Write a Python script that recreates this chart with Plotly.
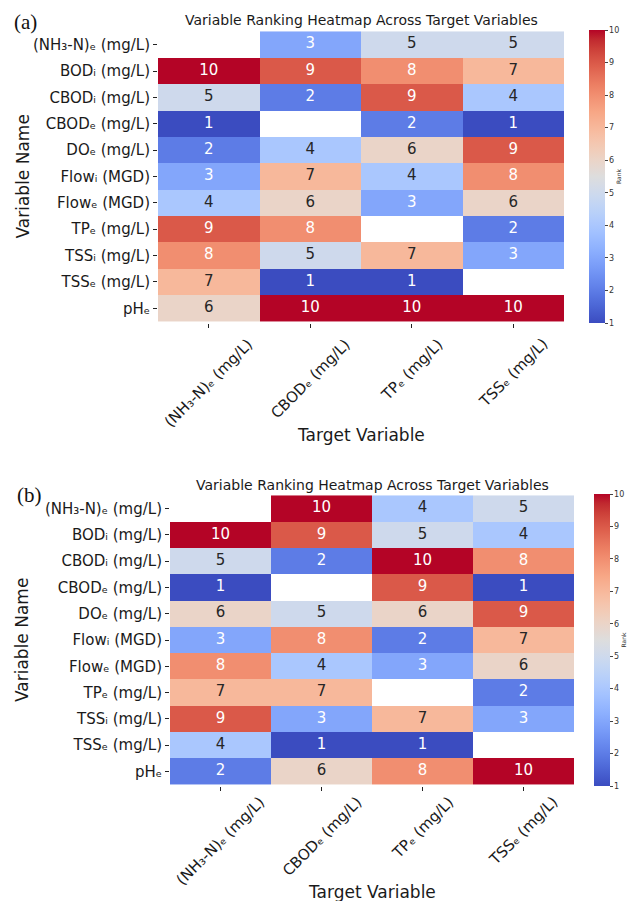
import numpy as np
import plotly.graph_objects as go

rows = ["(NH₃-N)ₑ (mg/L)", "BODᵢ (mg/L)", "CBODᵢ (mg/L)", "CBODₑ (mg/L)", "DOₑ (mg/L)",
        "Flowᵢ (MGD)", "Flowₑ (MGD)", "TPₑ (mg/L)", "TSSᵢ (mg/L)", "TSSₑ (mg/L)", "pHₑ"]
cols = ["(NH₃-N)ₑ (mg/L)", "CBODₑ (mg/L)", "TPₑ (mg/L)", "TSSₑ (mg/L)"]
N = None
ranks_a = [
    [N, 3, 5, 5],
    [10, 9, 8, 7],
    [5, 2, 9, 4],
    [1, N, 2, 1],
    [2, 4, 6, 9],
    [3, 7, 4, 8],
    [4, 6, 3, 6],
    [9, 8, N, 2],
    [8, 5, 7, 3],
    [7, 1, 1, N],
    [6, 10, 10, 10],
]
ranks_b = [
    [N, 10, 4, 5],
    [10, 9, 5, 4],
    [5, 2, 10, 8],
    [1, N, 9, 1],
    [6, 5, 6, 9],
    [3, 8, 2, 7],
    [8, 4, 3, 6],
    [7, 7, N, 2],
    [9, 3, 7, 3],
    [4, 1, 1, N],
    [2, 6, 8, 10],
]

# matplotlib "coolwarm" (Moreland diverging) control points
cw = [(59,76,192),(68,90,204),(77,104,215),(87,117,225),(98,130,234),(108,142,241),
      (119,154,247),(130,165,251),(141,176,254),(152,185,255),(163,194,255),(174,201,253),
      (184,208,249),(194,213,244),(204,217,238),(213,219,230),(221,221,221),(229,216,209),
      (236,211,197),(241,204,184),(245,196,172),(247,187,159),(247,177,147),(247,167,134),
      (244,154,123),(241,141,111),(236,127,99),(229,112,89),(222,96,77),(213,80,67),
      (203,62,56),(192,40,47),(180,4,38)]
pos = np.linspace(0, 1, len(cw))
colorscale = [[float(p), "rgb(%d,%d,%d)" % c] for p, c in zip(pos, cw)]
cw_arr = np.array(cw, dtype=float)

VMIN, VMAX = 1, 10

def text_color(v):
    t = (v - VMIN) / (VMAX - VMIN)
    rgb = np.array([np.interp(t, pos, cw_arr[:, k]) for k in range(3)]) / 255.0
    lin = np.where(rgb <= 0.03928, rgb / 12.92, ((rgb + 0.055) / 1.055) ** 2.4)
    lum = 0.2126 * lin[0] + 0.7152 * lin[1] + 0.0722 * lin[2]
    return "#262626" if lum > 0.408 else "white"

FONT = "DejaVu Sans"
W, H = 632, 901

panels = [
    dict(data=ranks_a, x0=158, x1=564, y0=30, y1=323, cbx=589, label="(a)", label_x=12, label_y=22,
         title_y=20, xlab_top=334, xt_y=435, suffix=""),
    dict(data=ranks_b, x0=170, x1=574, y0=494, y1=786, cbx=594, label="(b)", label_x=15, label_y=495,
         title_y=485, xlab_top=792, xt_y=892, suffix="2"),
]

fig = go.Figure()
annotations = []
for i, p in enumerate(panels):
    sfx = p["suffix"]
    xa = "x" + sfx
    ya = "y" + sfx
    z = [[np.nan if v is None else v for v in r] for r in p["data"]]
    fig.add_trace(go.Heatmap(
        z=z, x=cols, y=rows, xaxis=xa, yaxis=ya,
        colorscale=colorscale, zmin=VMIN, zmax=VMAX, xgap=0, ygap=0,
        hoverongaps=False,
        colorbar=dict(
            x=p["cbx"] / W, xanchor="left", xpad=0, ypad=0, thickness=16, thicknessmode="pixels",
            y=1 - p["y0"] / H, yanchor="top", len=(p["y1"] - p["y0"]) / H, lenmode="fraction",
            outlinewidth=0, tickmode="linear", tick0=1, dtick=1,
            ticks="outside", ticklen=3, tickcolor="#444", tickwidth=0.8,
            tickfont=dict(family=FONT, size=8, color="#333"),
            title=dict(text="Rank", side="right", font=dict(family=FONT, size=6, color="#333")),
        ),
    ))
    tx, ty, tt, tc = [], [], [], []
    for r, rname in enumerate(rows):
        for c, cname in enumerate(cols):
            v = p["data"][r][c]
            if v is None:
                continue
            tx.append(cname); ty.append(rname); tt.append(str(v)); tc.append(text_color(v))
    fig.add_trace(go.Scatter(
        x=tx, y=ty, text=tt, mode="text", xaxis=xa, yaxis=ya,
        textfont=dict(family=FONT, size=15, color=tc), showlegend=False, hoverinfo="skip",
    ))
    axis_common = dict(showgrid=False, zeroline=False, showline=False, ticks="outside",
                       ticklen=4, tickwidth=1, tickcolor="#222", automargin=False,
                       tickfont=dict(family=FONT, size=15, color="#1a1a1a"))
    fig.update_layout(**{
        "xaxis" + sfx: dict(axis_common, domain=[p["x0"] / W, p["x1"] / W], anchor=ya,
                            showticklabels=False, categoryorder="array", categoryarray=cols),
        "yaxis" + sfx: dict(axis_common, domain=[1 - p["y1"] / H, 1 - p["y0"] / H], anchor=xa,
                            autorange="reversed", categoryorder="array", categoryarray=rows),
    })
    # rotated x tick labels, centred on their ticks (matplotlib rotation=45, ha='center')
    for cname in cols:
        annotations.append(dict(
            text=cname, x=cname, xref=xa, y=1 - p["xlab_top"] / H, yref="paper",
            textangle=-45, xanchor="center", yanchor="top", showarrow=False,
            borderpad=0, font=dict(family=FONT, size=15, color="#1a1a1a")))
    cx = (p["x0"] + p["x1"]) / 2 / W
    annotations += [
        dict(text="Variable Ranking Heatmap Across Target Variables", x=cx, y=1 - p["title_y"] / H,
             xref="paper", yref="paper", showarrow=False, xanchor="center", yanchor="middle",
             font=dict(family=FONT, size=14, color="#1a1a1a")),
        dict(text="Target Variable", x=cx, y=1 - p["xt_y"] / H, xref="paper", yref="paper",
             showarrow=False, xanchor="center", yanchor="middle",
             font=dict(family=FONT, size=17, color="#1a1a1a")),
        dict(text="Variable Name", x=22 / W, y=1 - (p["y0"] + p["y1"]) / 2 / H, xref="paper",
             yref="paper", showarrow=False, textangle=-90, xanchor="center", yanchor="middle",
             font=dict(family=FONT, size=17, color="#1a1a1a")),
        dict(text=p["label"], x=p["label_x"] / W, y=1 - p["label_y"] / H, xref="paper", yref="paper",
             showarrow=False, xanchor="left", yanchor="middle",
             font=dict(family="Liberation Serif", size=21, color="#111")),
    ]

fig.update_layout(width=W, height=H, margin=dict(l=0, r=0, t=0, b=0, autoexpand=False),
                  paper_bgcolor="white", plot_bgcolor="white", showlegend=False,
                  annotations=annotations)
fig.write_html("out.html")
